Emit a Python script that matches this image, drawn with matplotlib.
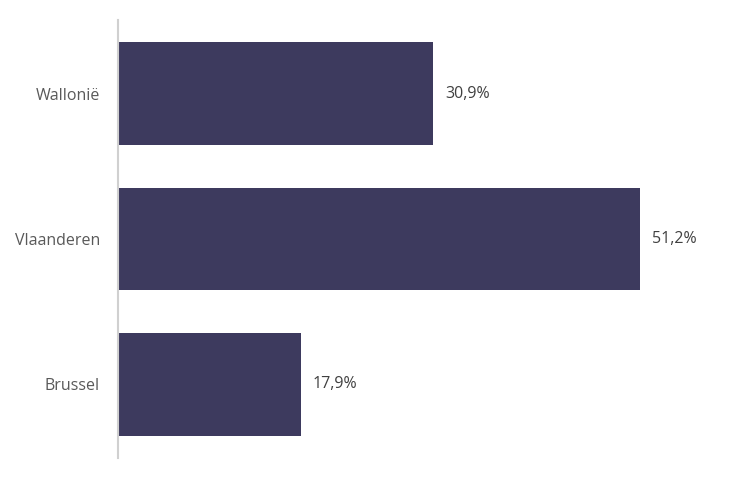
import matplotlib.pyplot as plt

# --- data ---
regions = ["Brussel", "Vlaanderen", "Wallonië"]
shares = [17.9, 51.2, 30.9]
labels = ["17,9%", "51,2%", "30,9%"]

plt.rcParams['font.family'] = ['Open Sans', 'DejaVu Sans']

fig = plt.figure(figsize=(7.54, 4.8), dpi=100)
ax = fig.add_axes([118 / 754, 22 / 480, 622 / 754, 438 / 480])

bars = ax.barh(regions, shares, height=0.71, color="#3d3a5e")

for bar, lab in zip(bars, labels):
    ax.text(bar.get_width() + 1.2, bar.get_y() + bar.get_height() / 2, lab,
            va="center", ha="left", fontsize=11.5, color="#404040")

ax.set_xlim(0, 61)
ax.set_ylim(-0.51, 2.51)

for side in ["top", "right", "bottom"]:
    ax.spines[side].set_visible(False)
ax.spines["left"].set_color("#d0d0d0")
ax.spines["left"].set_linewidth(1.5)
ax.set_xticks([])
ax.tick_params(axis="y", length=0, pad=13, labelsize=11.5, labelcolor="#595959")

plt.savefig("out.png", dpi=100)
plt.close()
